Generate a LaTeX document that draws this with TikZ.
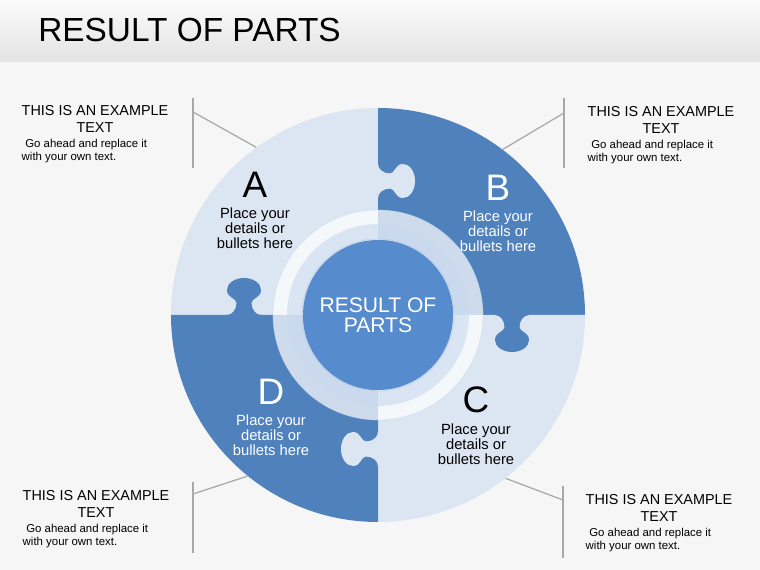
\documentclass[tikz,border=0pt]{standalone}
\usepackage{fontspec}
\setmainfont{Liberation Sans}
\usepackage{tikz}
\usetikzlibrary{positioning}
\definecolor{pale}{RGB}{220,230,242}
\definecolor{deep}{RGB}{79,129,189}
\definecolor{core}{RGB}{86,140,206}
\definecolor{ringtint}{RGB}{200,217,239}
\definecolor{leadgray}{RGB}{168,168,168}
\definecolor{paper}{RGB}{246,246,246}
\newcommand{\puzzleknob}[3]{%
  \fill[#1, shift={#2}, rotate=#3] (-1,-17) -- (0,-17)
    .. controls (0,-11.8) and (5.4,-7.5) .. (12,-7.5)
    .. controls (17,-7.5) and (17,-17) .. (25,-17)
    .. controls (31.6,-17) and (37,-9.4) .. (37,0)
    .. controls (37,9.4) and (31.6,17) .. (25,17)
    .. controls (17,17) and (17,7.5) .. (12,7.5)
    .. controls (5.4,7.5) and (0,11.8) .. (0,17) -- (-1,17) -- cycle;}

\begin{document}
\begin{tikzpicture}[x=0.02cm, y=0.02cm,
  letter/.style={font=\fontsize{21}{21}\selectfont, inner sep=0},
  detail/.style={font=\fontsize{8.4}{8.6}\selectfont, align=center, inner sep=0},
  head/.style={font=\fontsize{8.2}{10.2}\selectfont, align=center, inner sep=0},
  body/.style={font=\fontsize{6.5}{7.6}\selectfont, align=left, inner sep=0},
  lead/.style={draw=leadgray, line width=0.7pt},
]
% canvas and header
\fill[paper] (-378,-255) rectangle (382,315);
\shade[top color=gray!3, bottom color=gray!22] (-378,253) rectangle (382,315);
\useasboundingbox (-378,-255) rectangle (382,315);
\node[anchor=west, inner sep=0, font=\fontsize{19}{19}\selectfont] (title) at (-340,285) {RESULT OF PARTS};

% the wheel
\node[circle, minimum size=8.28cm, inner sep=0] (wheel) at (0,0) {};
\fill[pale] (0,0) -- (180:207) arc[start angle=180, end angle=90, radius=207] -- cycle;
\fill[deep] (0,0) -- (90:207) arc[start angle=90, end angle=0, radius=207] -- cycle;
\fill[pale] (0,0) -- (0:207) arc[start angle=360, end angle=270, radius=207] -- cycle;
\fill[deep] (0,0) -- (270:207) arc[start angle=270, end angle=180, radius=207] -- cycle;

\puzzleknob{pale}{(0,134)}{0}
\puzzleknob{deep}{(-134,0)}{90}
\puzzleknob{deep}{(134,0)}{-90}
\puzzleknob{pale}{(0,-134)}{180}

% glass ring and hub
\fill[white, fill opacity=.72, even odd rule] (0,0) circle[radius=105] (0,0) circle[radius=75];
\fill[ringtint, fill opacity=.6, even odd rule] (0,0) circle[radius=91] (0,0) circle[radius=75];
\draw[white!70!deep, line width=.4pt, opacity=.5] (0,0) circle[radius=105];
\draw[white!55!deep, line width=.5pt, opacity=.5] (0,0) circle[radius=76];
\node[circle, fill=core, minimum size=3cm, inner sep=0, text=white, align=center,
  font=\fontsize{12}{11.5}\selectfont] (hub) at (0,0) {RESULT OF\\PARTS};

% parts
\node[letter] (lA) at (-123,130) {A};
\node[detail, below=5.5pt of lA] (dA) {Place your\\details or\\bullets here};
\node[letter, text=white] (lB) at (120,127) {B};
\node[detail, text=white, below=5.5pt of lB] (dB) {Place your\\details or\\bullets here};
\node[letter] (lC) at (98,-85) {C};
\node[detail, below=5.5pt of lC] (dC) {Place your\\details or\\bullets here};
\node[letter, text=white] (lD) at (-107,-77) {D};
\node[detail, text=white, below=5.5pt of lD] (dD) {Place your\\details or\\bullets here};

% side notes
\node[head] (tlHead) at (-283,196) {THIS IS AN EXAMPLE\\TEXT};
\node[body, below=3pt of tlHead.south west, anchor=north west] (tlBody) {\hspace{2pt}Go ahead and replace it\\with your own text.};
\node[head] (trHead) at (283,195) {THIS IS AN EXAMPLE\\TEXT};
\node[body, below=3pt of trHead.south west, anchor=north west] (trBody) {\hspace{2pt}Go ahead and replace it\\with your own text.};
\node[head] (blHead) at (-282,-189) {THIS IS AN EXAMPLE\\TEXT};
\node[body, below=3pt of blHead.south west, anchor=north west] (blBody) {\hspace{2pt}Go ahead and replace it\\with your own text.};
\node[head] (brHead) at (281,-193) {THIS IS AN EXAMPLE\\TEXT};
\node[body, below=3pt of brHead.south west, anchor=north west] (brBody) {\hspace{2pt}Go ahead and replace it\\with your own text.};

% leaders
\coordinate (tlTop) at (-185,217); \coordinate (tlBot) at (-185,147); \coordinate (tlKnee) at (-185,203);
\coordinate (trTop) at (186,217); \coordinate (trBot) at (186,147); \coordinate (trKnee) at (186,202);
\coordinate (blTop) at (-185,-167); \coordinate (blBot) at (-185,-238); \coordinate (blKnee) at (-185,-179);
\coordinate (brTop) at (185,-171); \coordinate (brBot) at (185,-243); \coordinate (brKnee) at (185,-185);
\draw[lead] (tlTop) -- (tlBot);
\draw[lead] (tlKnee) -- (wheel.126);
\draw[lead] (trTop) -- (trBot);
\draw[lead] (trKnee) -- (wheel.53);
\draw[lead] (blTop) -- (blBot);
\draw[lead] (blKnee) -- (wheel.231);
\draw[lead] (brTop) -- (brBot);
\draw[lead] (brKnee) -- (wheel.308);
\end{tikzpicture}
\end{document}
